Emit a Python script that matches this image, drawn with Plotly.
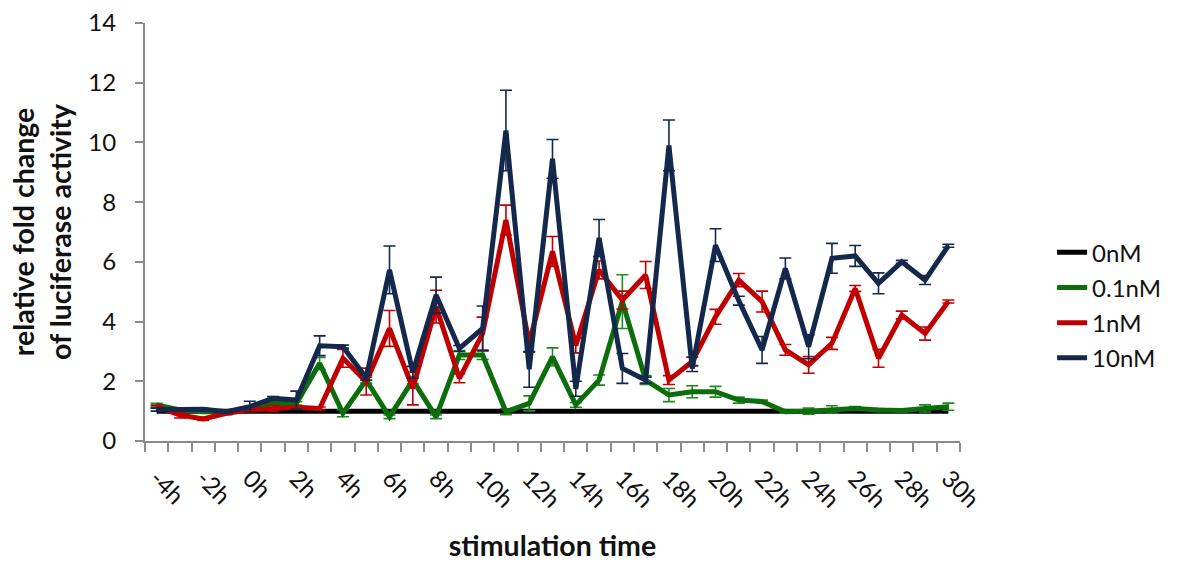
import plotly.graph_objects as go

# ---- data ----
hours = [-4, -3, -2, -1, 0, 1, 2, 3, 4, 5, 6, 7, 8, 9, 10, 11, 12, 13, 14, 15, 16,
         17, 18, 19, 20, 21, 22, 23, 24, 25, 26, 27, 28, 29, 30]

tick_hours = [-4, -2, 0, 2, 4, 6, 8, 10, 12, 14, 16, 18, 20, 22, 24, 26, 28, 30]
tick_labels = ["-4h", "-2h", "0h", "2h", "4h", "6h", "8h", "10h", "12h", "14h", "16h",
               "18h", "20h", "22h", "24h", "26h", "28h", "30h"]

series_names = ["0nM", "0.1nM", "1nM", "10nM"]

nm0 = [1.0, 1.0, 1.0, 1.0, 1.0, 1.0, 1.0, 1.0, 1.0, 1.0, 1.0, 1.0, 1.0, 1.0, 1.0, 1.0, 1.0, 1.0,
       1.0, 1.0, 1.0, 1.0, 1.0, 1.0, 1.0, 1.0, 1.0, 1.0, 1.0, 1.0, 1.0, 1.0, 1.0, 1.0, 1.0]
nm0_err = [0, 0, 0, 0, 0, 0, 0, 0, 0, 0, 0, 0, 0, 0, 0, 0, 0, 0,
           0, 0, 0, 0, 0, 0, 0, 0, 0, 0, 0, 0, 0, 0, 0, 0, 0]

nm01 = [1.21, 1.04, 0.98, 0.98, 1.09, 1.26, 1.26, 2.6, 0.93, 2.04, 0.81, 2.04, 0.81, 2.88,
        2.88, 0.98, 1.26, 2.82, 1.21, 2.04, 4.67, 2.04, 1.54, 1.65, 1.65, 1.37, 1.32, 0.98,
        1.0, 1.06, 1.09, 1.04, 1.02, 1.09, 1.15]
nm01_err = [0.05, 0.04, 0.04, 0.04, 0.05, 0.06, 0.06, 0.2, 0.12, 0.1, 0.06, 0.12, 0.06, 0.15,
            0.15, 0.1, 0.25, 0.3, 0.08, 0.17, 0.9, 0.15, 0.22, 0.2, 0.18, 0.1, 0.05, 0.05,
            0.1, 0.12, 0.06, 0.05, 0.05, 0.12, 0.12]

nm1 = [1.15, 0.87, 0.74, 0.93, 1.04, 1.09, 1.13, 1.09, 2.77, 1.99, 3.77, 1.76, 4.5, 2.1,
       3.6, 7.4, 3.27, 6.35, 3.2, 5.73, 4.72, 5.56, 2.04, 2.66, 4.16, 5.39, 4.67, 3.05,
       2.55, 3.27, 5.11, 2.77, 4.22, 3.6, 4.67]
nm1_err = [0.05, 0.1, 0.05, 0.05, 0.1, 0.1, 0.05, 0.05, 0.3, 0.45, 0.6, 0.55, 0.55, 0.15,
           0.55, 0.5, 0.3, 0.5, 0.25, 0.3, 0.3, 0.45, 0.15, 0.15, 0.25, 0.22, 0.35, 0.18,
           0.28, 0.2, 0.1, 0.3, 0.13, 0.22, 0.05]

nm10 = [1.05, 1.04, 1.06, 0.98, 1.15, 1.43, 1.37, 3.19, 3.16, 2.12, 5.73, 2.3, 4.89, 3.1,
        3.77, 10.4, 2.4, 9.45, 1.75, 6.8, 2.43, 2.04, 9.9, 2.43, 6.56, 4.7, 3.05, 5.78,
        3.16, 6.12, 6.2, 5.28, 6.0, 5.39, 6.54]
nm10_err = [0.05, 0.03, 0.03, 0.03, 0.18, 0.06, 0.3, 0.33, 0.05, 0.08, 0.8, 0.2, 0.6, 0.1,
            0.75, 1.35, 0.6, 0.65, 0.25, 0.62, 0.5, 0.1, 0.85, 0.1, 0.55, 0.15, 0.45, 0.35,
            0.4, 0.5, 0.35, 0.35, 0.05, 0.15, 0.05]

colors = ["#000000", "#0B6E0B", "#C00000", "#13284A"]
err_colors = ["#000000", "#1E8A1E", "#C00000", "#13284A"]

values = [nm0, nm01, nm1, nm10]
errors = [nm0_err, nm01_err, nm1_err, nm10_err]

FONT = "Lato"
TXT = "#111111"
AXIS_GREY = "#8C8C8C"

fig = go.Figure()
for i, (name, y, e) in enumerate(zip(series_names, values, errors)):
    fig.add_trace(go.Scatter(
        x=hours, y=y, name=name, mode="lines",
        line=dict(color=colors[i], width=5),
        error_y=dict(type="data", array=e, symmetric=True, visible=(i > 0),
                     color=err_colors[i], thickness=1.6, width=6),
        legendgroup=name,
    ))

fig.update_layout(
    width=1179, height=563,
    margin=dict(l=145, r=219, t=23, b=122),
    paper_bgcolor="white", plot_bgcolor="white",
    font=dict(family=FONT, color=TXT),
    showlegend=True,
    legend=dict(
        x=1.113, xanchor="left", y=0.325, yanchor="middle",
        font=dict(family=FONT, size=24, color=TXT),
        traceorder="grouped", tracegroupgap=1,
        itemwidth=30, bgcolor="rgba(0,0,0,0)",
    ),
    xaxis=dict(
        type="linear", range=[-4.5, 30.5],
        tickmode="array", tickvals=tick_hours, ticktext=tick_labels,
        tickangle=45, ticks="", ticklabelstandoff=12,
        tickfont=dict(family=FONT, size=24, color=TXT),
        showline=True, linecolor=AXIS_GREY, linewidth=2,
        showgrid=False, zeroline=False,
        minor=dict(tick0=-4.5, dtick=1, ticks="outside", ticklen=9,
                   tickcolor=AXIS_GREY, tickwidth=2, showgrid=False),
        title=dict(text="<b>stimulation time</b>", font=dict(family=FONT, size=28.5, color=TXT),
                   standoff=24),
        automargin=False,
    ),
    yaxis=dict(
        range=[0, 14], dtick=2, tick0=0,
        ticks="outside", ticklen=8, tickcolor=AXIS_GREY, tickwidth=2,
        ticklabelstandoff=14,
        tickfont=dict(family=FONT, size=24, color=TXT),
        showline=True, linecolor=AXIS_GREY, linewidth=2,
        showgrid=False, zeroline=False,
        title=dict(text="<b>relative fold change<br>of luciferase activity</b>",
                   font=dict(family=FONT, size=28.5, color=TXT), standoff=8),
        automargin=False,
    ),
)

fig.write_html("out.html")
